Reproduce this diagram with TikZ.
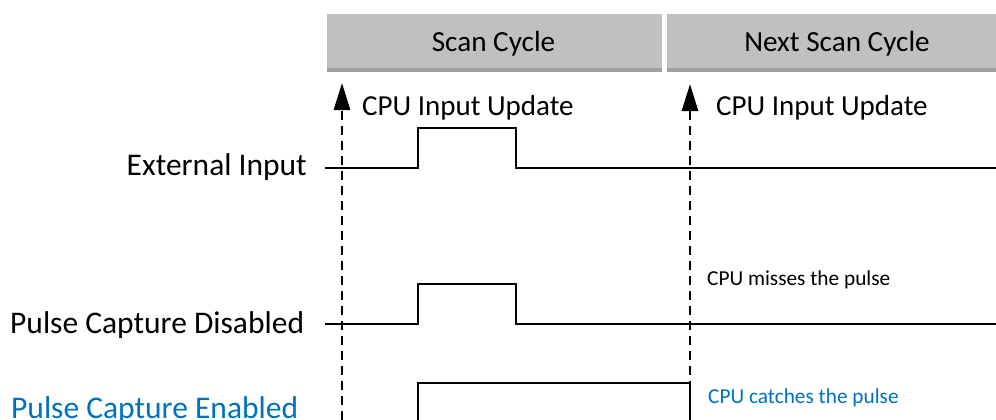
\documentclass[tikz,border=0pt]{standalone}
\usepackage{fontspec}
\setmainfont{Carlito}
\usetikzlibrary{arrows.meta}
\definecolor{hdr}{HTML}{C0C0C0}
\definecolor{hdrdark}{HTML}{A0A0A0}
\definecolor{capblue}{HTML}{0070C0}
\tikzset{
  sig/.style={line width=2pt, line join=miter, black},
  updarrow/.style={line width=2.8pt, dash pattern=on 9pt off 6pt, -{Triangle[length=27pt,width=16pt]}},
  biglabel/.style={font=\fontsize{31.5}{36}\selectfont, inner sep=0pt},
  hdrlabel/.style={font=\fontsize{29.2}{33}\selectfont, inner sep=0pt},
  updlabel/.style={font=\fontsize{29}{33}\selectfont, inner sep=0pt},
  smalllabel/.style={font=\fontsize{21.3}{25}\selectfont, inner sep=0pt}
}
\begin{document}
\begin{tikzpicture}[x=1pt,y=-1pt]
\useasboundingbox (0,0) rectangle (996,420);
% header boxes
\fill[hdr] (327,14) rectangle (662,68);
\fill[hdrdark] (327,68) rectangle (662,72);
\fill[hdr] (667,14) rectangle (996,68);
\fill[hdrdark] (667,68) rectangle (996,72);
\node[hdrlabel, anchor=base] (sc) at (493.5,52) {Scan Cycle};
\node[hdrlabel, anchor=base] (nsc) at (837,52) {Next Scan Cycle};
% update arrows
\coordinate (a1b) at (342,420);
\coordinate (a1t) at (342,83);
\coordinate (a2b) at (690,420);
\coordinate (a2t) at (690,84);
\draw[updarrow] (a1b) -- (a1t);
\draw[updarrow] (a2b) -- (a2t);
\node[updlabel, anchor=base west] (u1) at (362,115) {CPU Input Update};
\node[updlabel, anchor=base west] (u2) at (716,115) {CPU Input Update};
% signal labels
\node[biglabel, anchor=base east] (ext) at (307,175) {External Input};
\node[biglabel, anchor=base west] (dis) at (10,333) {Pulse Capture Disabled};
\node[biglabel, anchor=base west, text=capblue] (en) at (11,418) {Pulse Capture Enabled};
% signals
\draw[sig] (325,168) -- (418,168) -- (418,128) -- (516,128) -- (516,168) -- (996,168);
\draw[sig] (325,324) -- (418,324) -- (418,284) -- (516,284) -- (516,324) -- (996,324);
\draw[sig] (418,425) -- (418,383) -- (690,383) -- (690,425);
% notes
\node[smalllabel, anchor=base west] (miss) at (707,285) {CPU misses the pulse};
\node[smalllabel, anchor=base west, text=capblue] (catch) at (708,403) {CPU catches the pulse};
\end{tikzpicture}
\end{document}
